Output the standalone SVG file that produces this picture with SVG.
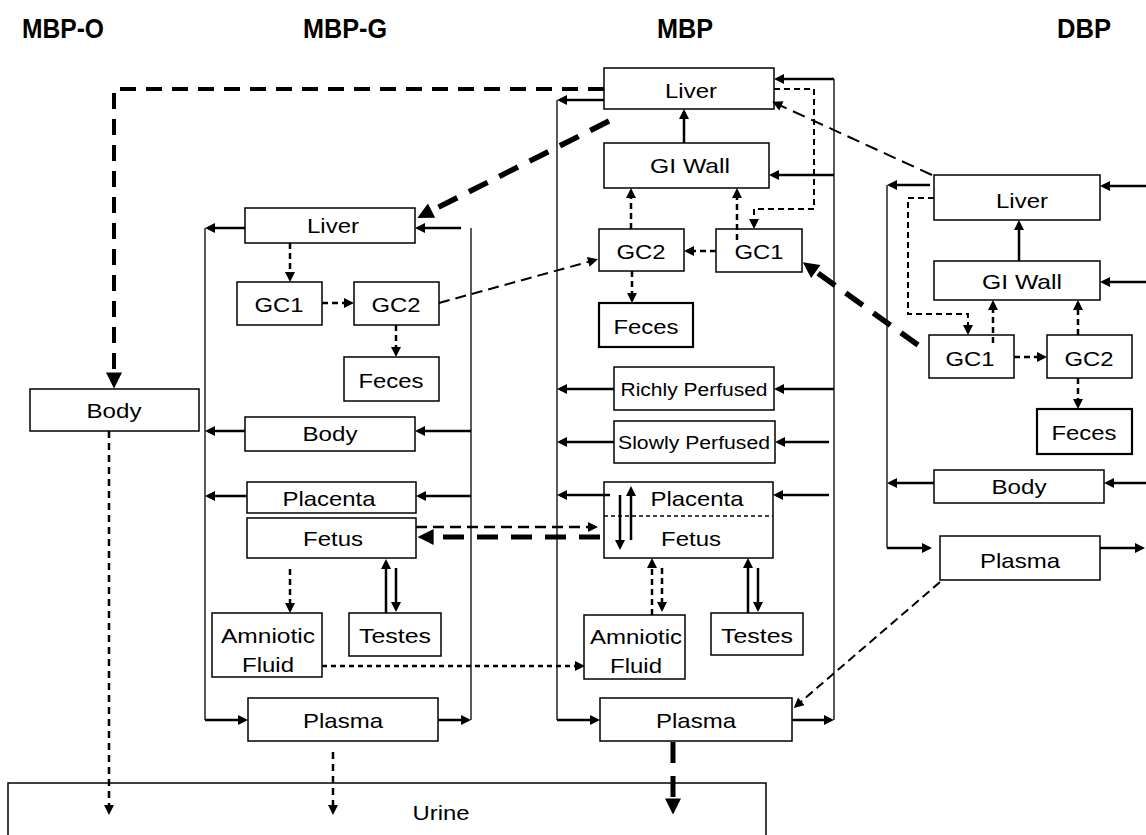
<svg xmlns="http://www.w3.org/2000/svg" width="1146" height="835" viewBox="0 0 1146 835">
<style>
.box{fill:#fff;stroke:#000;stroke-width:1.5}
.bx2{fill:#fff;stroke:#000;stroke-width:2.2}
.t{font-family:"Liberation Sans",Arial,sans-serif;font-size:21px;text-anchor:middle;fill:#000}
.sm{font-size:18px}
.h{font-family:"Liberation Sans",Arial,sans-serif;font-size:27px;font-weight:bold;text-anchor:middle;fill:#000}
.c{stroke:#000;stroke-width:1.3;fill:none}
.s{stroke:#000;stroke-width:2.5;fill:none;marker-end:url(#a)}
.d{stroke:#000;stroke-width:2.5;fill:none;stroke-dasharray:6 4;marker-end:url(#a)}
.m{stroke:#000;stroke-width:2;fill:none;stroke-dasharray:11 6;marker-end:url(#a)}
.k{stroke:#000;stroke-width:5;fill:none;stroke-dasharray:21 13;marker-end:url(#A)}
</style>
<defs>
<marker id="a" viewBox="0 0 10 10" refX="7" refY="5" markerWidth="12" markerHeight="10" markerUnits="userSpaceOnUse" orient="auto"><path d="M0,0 L10,5 L0,10 z" fill="#000"/></marker>
<marker id="A" viewBox="0 0 10 10" refX="6" refY="5" markerWidth="18" markerHeight="16" markerUnits="userSpaceOnUse" orient="auto"><path d="M0,0 L10,5 L0,10 z" fill="#000"/></marker>
</defs>
<rect width="1146" height="835" fill="#fff"/>

<g id="titles">
<text class="h" x="63" y="38" textLength="82" lengthAdjust="spacingAndGlyphs">MBP-O</text>
<text class="h" x="345" y="38" textLength="84" lengthAdjust="spacingAndGlyphs">MBP-G</text>
<text class="h" x="685" y="38" textLength="56" lengthAdjust="spacingAndGlyphs">MBP</text>
<text class="h" x="1084" y="38" textLength="54" lengthAdjust="spacingAndGlyphs">DBP</text>
</g>

<g id="urine"><rect class="box" x="8" y="783" width="758" height="60"/><text class="t" x="441" y="820" textLength="57" lengthAdjust="spacingAndGlyphs">Urine</text></g>

<g id="mbpo-body"><rect class="box" x="30" y="389" width="169" height="42"/><text class="t" x="114" y="418" textLength="55" lengthAdjust="spacingAndGlyphs">Body</text></g>

<g id="mbpg-liver"><rect class="box" x="245" y="208" width="170" height="35"/><text class="t" x="333" y="233" textLength="52" lengthAdjust="spacingAndGlyphs">Liver</text></g>
<g id="mbpg-gc1"><rect class="box" x="237" y="282" width="85" height="43"/><text class="t" x="279" y="312" textLength="49" lengthAdjust="spacingAndGlyphs">GC1</text></g>
<g id="mbpg-gc2"><rect class="box" x="354" y="282" width="85" height="43"/><text class="t" x="396" y="312" textLength="49" lengthAdjust="spacingAndGlyphs">GC2</text></g>
<g id="mbpg-feces"><rect class="box" x="344" y="357" width="95" height="44"/><text class="t" x="391" y="388" textLength="65" lengthAdjust="spacingAndGlyphs">Feces</text></g>
<g id="mbpg-body"><rect class="box" x="245" y="417" width="170" height="34"/><text class="t" x="330" y="441" textLength="55" lengthAdjust="spacingAndGlyphs">Body</text></g>
<g id="mbpg-placenta"><rect class="box" x="247" y="482" width="169" height="31"/><text class="t" x="329" y="506" textLength="93" lengthAdjust="spacingAndGlyphs">Placenta</text></g>
<g id="mbpg-fetus"><rect class="box" x="247" y="518" width="169" height="40"/><text class="t" x="333" y="546" textLength="60" lengthAdjust="spacingAndGlyphs">Fetus</text></g>
<g id="mbpg-amniotic"><rect class="box" x="212" y="613" width="110" height="64"/><text class="t" x="268" y="643" textLength="94" lengthAdjust="spacingAndGlyphs">Amniotic</text><text class="t" x="268" y="672" textLength="52" lengthAdjust="spacingAndGlyphs">Fluid</text></g>
<g id="mbpg-testes"><rect class="box" x="349" y="613" width="92" height="43"/><text class="t" x="395" y="643" textLength="72" lengthAdjust="spacingAndGlyphs">Testes</text></g>
<g id="mbpg-plasma"><rect class="box" x="248" y="698" width="190" height="43"/><text class="t" x="343" y="728" textLength="80" lengthAdjust="spacingAndGlyphs">Plasma</text></g>

<g id="mbp-liver"><rect class="box" x="604" y="68" width="170" height="41"/><text class="t" x="691" y="98" textLength="52" lengthAdjust="spacingAndGlyphs">Liver</text></g>
<g id="mbp-giwall"><rect class="box" x="604" y="143" width="165" height="45"/><text class="t" x="690" y="173" textLength="80" lengthAdjust="spacingAndGlyphs">GI Wall</text></g>
<g id="mbp-gc2"><rect class="box" x="599" y="229" width="85" height="42"/><text class="t" x="641" y="259" textLength="49" lengthAdjust="spacingAndGlyphs">GC2</text></g>
<g id="mbp-gc1"><rect class="box" x="716" y="229" width="86" height="43"/><text class="t" x="759" y="259" textLength="49" lengthAdjust="spacingAndGlyphs">GC1</text></g>
<g id="mbp-feces"><rect class="bx2" x="599" y="303" width="94" height="44"/><text class="t" x="646" y="334" textLength="65" lengthAdjust="spacingAndGlyphs">Feces</text></g>
<g id="mbp-richly"><rect class="box" x="614" y="367" width="160" height="43"/><text class="t sm" x="694" y="396" textLength="147" lengthAdjust="spacingAndGlyphs">Richly Perfused</text></g>
<g id="mbp-slowly"><rect class="box" x="614" y="421" width="161" height="42"/><text class="t sm" x="694" y="449" textLength="152" lengthAdjust="spacingAndGlyphs">Slowly Perfused</text></g>
<g id="mbp-placenta-fetus"><rect class="box" x="604" y="482" width="169" height="76"/><line x1="604" y1="516" x2="773" y2="516" stroke="#000" stroke-width="1.5" stroke-dasharray="4 3"/><text class="t" x="697" y="506" textLength="93" lengthAdjust="spacingAndGlyphs">Placenta</text><text class="t" x="691" y="546" textLength="60" lengthAdjust="spacingAndGlyphs">Fetus</text></g>
<g id="mbp-amniotic"><rect class="box" x="584" y="615" width="101" height="64"/><text class="t" x="636" y="644" textLength="92" lengthAdjust="spacingAndGlyphs">Amniotic</text><text class="t" x="636" y="673" textLength="52" lengthAdjust="spacingAndGlyphs">Fluid</text></g>
<g id="mbp-testes"><rect class="box" x="711" y="613" width="92" height="42"/><text class="t" x="757" y="643" textLength="72" lengthAdjust="spacingAndGlyphs">Testes</text></g>
<g id="mbp-plasma"><rect class="box" x="600" y="698" width="192" height="43"/><text class="t" x="696" y="728" textLength="80" lengthAdjust="spacingAndGlyphs">Plasma</text></g>

<g id="dbp-liver"><rect class="box" x="934" y="175" width="166" height="45"/><text class="t" x="1022" y="208" textLength="52" lengthAdjust="spacingAndGlyphs">Liver</text></g>
<g id="dbp-giwall"><rect class="box" x="934" y="261" width="166" height="39"/><text class="t" x="1022" y="289" textLength="80" lengthAdjust="spacingAndGlyphs">GI Wall</text></g>
<g id="dbp-gc1"><rect class="box" x="929" y="335" width="85" height="43"/><text class="t" x="970" y="366" textLength="49" lengthAdjust="spacingAndGlyphs">GC1</text></g>
<g id="dbp-gc2"><rect class="box" x="1047" y="335" width="85" height="43"/><text class="t" x="1089" y="366" textLength="49" lengthAdjust="spacingAndGlyphs">GC2</text></g>
<g id="dbp-feces"><rect class="bx2" x="1037" y="409" width="95" height="45"/><text class="t" x="1084" y="440" textLength="65" lengthAdjust="spacingAndGlyphs">Feces</text></g>
<g id="dbp-body"><rect class="box" x="934" y="470" width="170" height="33"/><text class="t" x="1019" y="494" textLength="55" lengthAdjust="spacingAndGlyphs">Body</text></g>
<g id="dbp-plasma"><rect class="box" x="940" y="536" width="160" height="44"/><text class="t" x="1020" y="568" textLength="80" lengthAdjust="spacingAndGlyphs">Plasma</text></g>

<g id="connectors">
<path class="c" d="M205,228 V720"/>
<path class="c" d="M471,228 V720"/>
<path class="c" d="M557,100 V720"/>
<path class="c" d="M834,79 V720"/>
<path class="c" d="M887,185 V548"/>

<path class="s" d="M245,228 H208"/>
<path class="s" d="M461,228 H418"/>
<path class="s" d="M245,431 H208"/>
<path class="s" d="M471,431 H418"/>
<path class="s" d="M247,496 H208"/>
<path class="s" d="M471,496 H419"/>
<path class="s" d="M205,720 H245"/>
<path class="s" d="M438,720 H468"/>
<path class="s" d="M386,613 V562"/>
<path class="s" d="M396,568 V609"/>

<path class="s" d="M604,100 H560"/>
<path class="s" d="M834,79 H777"/>
<path class="s" d="M684,143 V112"/>
<path class="s" d="M834,175 H772"/>
<path class="s" d="M614,389 H560"/>
<path class="s" d="M834,389 H777"/>
<path class="s" d="M614,442 H560"/>
<path class="s" d="M829,442 H778"/>
<path class="s" d="M610,495 H560"/>
<path class="s" d="M829,495 H776"/>
<path class="s" d="M631,540 V489"/>
<path class="s" d="M620,495 V547"/>
<path class="s" d="M748,613 V561"/>
<path class="s" d="M758,568 V609"/>
<path class="s" d="M557,720 H597"/>
<path class="s" d="M792,720 H831"/>

<path class="s" d="M930,185 H890"/>
<path class="s" d="M1146,186 H1103"/>
<path class="s" d="M1019,261 V223"/>
<path class="s" d="M1146,282 H1103"/>
<path class="s" d="M934,483 H890"/>
<path class="s" d="M1146,483 H1107"/>
<path class="s" d="M887,548 H929"/>
<path class="s" d="M1100,548 H1142"/>

<path class="d" d="M290,243 V279"/>
<path class="d" d="M322,303 H351"/>
<path class="d" d="M396,325 V354"/>
<path class="d" d="M290,569 V610"/>
<path class="m" d="M439,303 L595,260"/>
<path class="m" d="M416,527 H595" style="stroke-width:2.5"/>
<path class="d" d="M322,666 H582" style="stroke-dasharray:5 4"/>
<path class="d" d="M716,251 H687"/>
<path class="d" d="M631,229 V191"/>
<path class="d" d="M737,240 V191"/>
<path class="d" d="M774,89 H814 V209 H754 V226" style="stroke-width:2"/>
<path class="d" d="M632,271 V300"/>
<path class="d" d="M652,615 V561"/>
<path class="d" d="M662,568 V609"/>
<path class="d" d="M934,198 H908 V314 H968 V332" style="stroke-width:2"/>
<path class="d" d="M1014,357 H1044"/>
<path class="d" d="M993,343 V303"/>
<path class="d" d="M1078,335 V303"/>
<path class="d" d="M1078,378 V406"/>
<path class="m" d="M932,175 L775,103" style="stroke-dasharray:13 7"/>
<path class="m" d="M940,582 L796,706" style="stroke-dasharray:9 5"/>
<path class="d" d="M109,431 V812" style="stroke-dasharray:7 5"/>
<path class="d" d="M333,752 V812" style="stroke-dasharray:7 5"/>

<path class="k" d="M604,89 H114 V382" style="stroke-width:4;stroke-dasharray:16 10"/>
<path class="k" d="M609,121 L423,215" style="stroke-width:5.5"/>
<path class="k" d="M918,345 L808,266" style="stroke-width:5.5"/>
<path class="k" d="M600,537 H424"/>
<path class="k" d="M673,742 V808"/>
</g>
</svg>
